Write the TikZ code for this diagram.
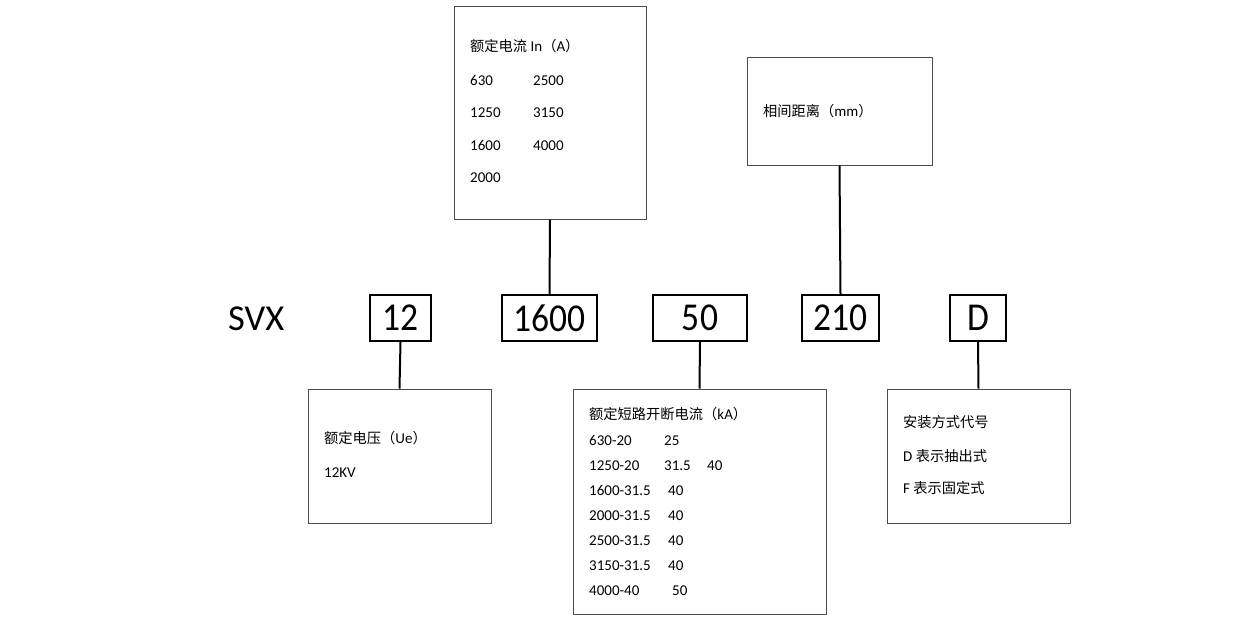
\documentclass[tikz,border=0pt]{standalone}
\usepackage{fontspec}
\setmainfont{Carlito}
\newfontfamily\cjk[Scale=0.95]{Noto Sans CJK SC}
\newfontfamily\numfont[FakeStretch=0.9]{Carlito}
\begin{document}
\begin{tikzpicture}[x=1pt,y=-1pt,
  bigbox/.style={draw=black!70, line width=1pt, inner sep=0pt},
  codebox/.style={draw=black, line width=2pt, inner sep=0pt, minimum height=46pt, font=\numfont\fontsize{39.5}{42}\selectfont},
  lbl/.style={anchor=west, inner sep=0pt, text height=9.5pt, text depth=0pt, font=\fontsize{15}{18}\selectfont},
  link/.style={draw=black, line width=2pt}]
\useasboundingbox (0,0) rectangle (1240,627);
% big boxes
\node[bigbox, minimum width=192pt, minimum height=213pt] (inbox) at (550,112.5) {};
\node[bigbox, minimum width=185pt, minimum height=108pt] (mmbox) at (839.5,111) {};
\node[bigbox, minimum width=183pt, minimum height=134pt] (uebox) at (399.5,456) {};
\node[bigbox, minimum width=253pt, minimum height=225pt] (kabox) at (699.5,501.5) {};
\node[bigbox, minimum width=183pt, minimum height=134pt] (insbox) at (978.5,456) {};
% code row
\node[anchor=west, inner sep=0pt, font=\fontsize{36.5}{40}\selectfont] (svx) at (228,319) {SVX};
\node[codebox, minimum width=61pt] (c12) at (400.5,318) {12};
\node[codebox, minimum width=95pt] (c1600) at (549.5,318) {1600};
\node[codebox, minimum width=94pt] (c50) at (700,318) {50};
\node[codebox, minimum width=77pt] (c210) at (840.5,318) {210};
\node[codebox, minimum width=56pt] (cD) at (978,318) {D};
% connectors
\draw[link] (inbox.south) -- (c1600.north);
\draw[link] (mmbox.south) -- (c210.north);
\draw[link] (c12.south) -- (uebox.north);
\draw[link] (c50.south) -- (kabox.north);
\draw[link] (cD.south) -- (insbox.north);
% rated current box
\node[lbl] (t0) at (470,47) {{\cjk 额定电流} In{\cjk （}A{\cjk ）}};
\node[lbl] (t1a) at (470,81) {630};
\node[lbl] (t1b) at (533,81) {2500};
\node[lbl] (t2a) at (470,113) {1250};
\node[lbl] (t2b) at (533,113) {3150};
\node[lbl] (t3a) at (470,146) {1600};
\node[lbl] (t3b) at (533,146) {4000};
\node[lbl] (t4a) at (470,178) {2000};
% phase distance box
\node[lbl] (m0) at (763,112) {{\cjk 相间距离（}mm{\cjk ）}};
% voltage box
\node[lbl] (u0) at (324,439) {{\cjk 额定电压（}Ue{\cjk ）}};
\node[lbl] (u1) at (324,473) {12KV};
% breaking current box
\node[lbl] (k0) at (589,415) {{\cjk 额定短路开断电流（}kA{\cjk ）}};
\node[lbl] (k1a) at (589,441) {630-20};
\node[lbl] (k1b) at (664,441) {25};
\node[lbl] (k2a) at (589,466) {1250-20};
\node[lbl] (k2b) at (664,466) {31.5};
\node[lbl] (k2c) at (707,466) {40};
\node[lbl] (k3a) at (589,491) {1600-31.5};
\node[lbl] (k3b) at (668,491) {40};
\node[lbl] (k4a) at (589,516) {2000-31.5};
\node[lbl] (k4b) at (668,516) {40};
\node[lbl] (k5a) at (589,541) {2500-31.5};
\node[lbl] (k5b) at (668,541) {40};
\node[lbl] (k6a) at (589,566) {3150-31.5};
\node[lbl] (k6b) at (668,566) {40};
\node[lbl] (k7a) at (589,591) {4000-40};
\node[lbl] (k7b) at (672,591) {50};
% installation box
\node[lbl] (i0) at (903,423) {{\cjk 安装方式代号}};
\node[lbl] (i1) at (903,457) {D {\cjk 表示抽出式}};
\node[lbl] (i2) at (903,489) {F {\cjk 表示固定式}};
\end{tikzpicture}
\end{document}
